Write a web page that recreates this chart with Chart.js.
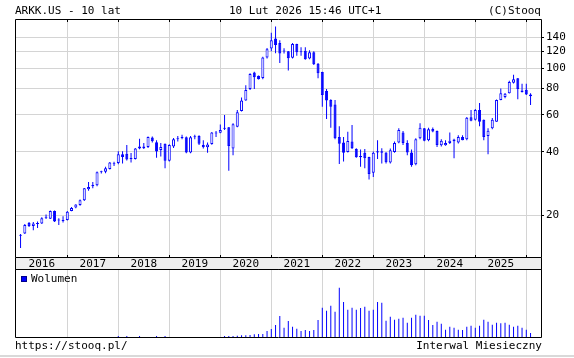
<!DOCTYPE html>
<html><head><meta charset="utf-8">
<script src="https://cdn.jsdelivr.net/npm/chart.js@4/dist/chart.umd.min.js"></script>
<style>
html,body{margin:0;padding:0;background:#fff;}
#wrap{position:relative;width:574px;height:358px;overflow:hidden;font-family:"DejaVu Sans Mono",monospace;font-size:11px;color:#000;}
.t{position:absolute;white-space:pre;line-height:12px;height:12px;}
canvas{position:absolute;left:0;}
#c1{top:0;}
#c2{top:269px;}
#hr{position:absolute;left:0;top:355px;width:574px;height:2px;background:#d9d9d9;}
#lgsq{position:absolute;left:21px;top:276px;width:4px;height:4px;background:#0000ff;border:1px solid #00008b;}
</style></head>
<body><div id="wrap">
<canvas id="c1" width="574" height="270"></canvas>
<canvas id="c2" width="574" height="70"></canvas>
<div class="t" style="left:15px;top:5px;">ARKK.US - 10 lat</div>
<div class="t" style="left:229px;top:5px;">10 Lut 2026 15:46 UTC+1</div>
<div class="t" style="right:33px;top:5px;">(C)Stooq</div>
<div id="lgsq"></div>
<div class="t" style="left:31px;top:273px;">Wolumen</div>
<div class="t" style="left:15px;top:340px;">https://stooq.pl/</div>
<div class="t" style="right:32px;top:340px;">Interwal Miesieczny</div>
<div id="hr"></div>
</div>
<script>
// ---- data (monthly candles, Feb 2016 .. Feb 2026) ----
const months = [
 '2016-02','2016-03','2016-04','2016-05','2016-06','2016-07','2016-08','2016-09','2016-10','2016-11','2016-12',
 '2017-01','2017-02','2017-03','2017-04','2017-05','2017-06','2017-07','2017-08','2017-09','2017-10','2017-11','2017-12',
 '2018-01','2018-02','2018-03','2018-04','2018-05','2018-06','2018-07','2018-08','2018-09','2018-10','2018-11','2018-12',
 '2019-01','2019-02','2019-03','2019-04','2019-05','2019-06','2019-07','2019-08','2019-09','2019-10','2019-11','2019-12',
 '2020-01','2020-02','2020-03','2020-04','2020-05','2020-06','2020-07','2020-08','2020-09','2020-10','2020-11','2020-12',
 '2021-01','2021-02','2021-03','2021-04','2021-05','2021-06','2021-07','2021-08','2021-09','2021-10','2021-11','2021-12',
 '2022-01','2022-02','2022-03','2022-04','2022-05','2022-06','2022-07','2022-08','2022-09','2022-10','2022-11','2022-12',
 '2023-01','2023-02','2023-03','2023-04','2023-05','2023-06','2023-07','2023-08','2023-09','2023-10','2023-11','2023-12',
 '2024-01','2024-02','2024-03','2024-04','2024-05','2024-06','2024-07','2024-08','2024-09','2024-10','2024-11','2024-12',
 '2025-01','2025-02','2025-03','2025-04','2025-05','2025-06','2025-07','2025-08','2025-09','2025-10','2025-11','2025-12',
 '2026-01','2026-02'];
const open = [
 16.0,16.4,18.4,17.8,18.2,18.3,19.5,19.3,21.0,18.9,18.8,
 19.0,21.0,21.8,22.4,23.6,26.6,27.5,27.8,32.0,32.2,33.2,35.0,
 35.4,39.0,39.2,37.0,37.0,41.5,42.4,42.2,46.9,44.5,40.9,43.7,
 36.3,42.5,46.0,46.6,47.0,39.8,47.0,47.6,43.1,42.1,43.6,48.9,
 49.4,52.0,52.4,41.5,52.7,62.6,70.1,79.6,95.2,91.9,89.7,112.3,
 124.0,138.0,131.6,119.8,120.2,112.0,130.2,118.8,121.0,111.0,119.0,105.0,
 95.7,77.8,70.5,67.2,47.1,44.3,40.0,44.8,41.3,37.7,39.7,37.9,
 31.9,40.3,39.6,39.8,35.6,40.0,44.3,49.5,44.1,39.8,35.0,46.4,
 51.8,45.5,51.4,50.3,43.0,43.0,44.1,45.0,44.3,47.1,45.9,58.4,
 56.8,63.3,56.9,47.6,51.8,55.7,70.5,73.0,76.0,85.3,89.5,78.2,
 79.0,75.0];
const high = [
 16.3,18.2,18.6,18.6,18.7,19.6,20.2,21.1,21.1,19.4,19.8,
 21.0,21.9,22.6,23.8,27.0,28.8,28.8,32.3,32.6,34.0,35.8,35.9,
 40.3,40.3,43.1,39.5,41.8,46.2,44.1,47.3,47.3,45.5,44.1,43.9,
 43.5,46.6,47.6,48.3,47.3,47.6,48.3,48.0,45.5,44.3,49.8,50.3,
 54.0,59.9,52.6,54.7,63.3,72.5,83.0,94.5,96.2,92.3,113.2,124.5,
 147.0,157.6,135.4,124.1,120.6,131.6,130.5,125.5,125.5,121.4,120.2,105.6,
 96.2,79.6,71.1,70.5,53.0,47.1,49.9,53.7,41.6,41.1,41.3,38.0,
 40.2,45.5,41.6,39.9,41.5,44.8,51.8,50.3,45.5,41.1,46.5,54.7,
 52.0,52.1,52.3,50.5,46.0,45.5,49.5,46.2,48.0,48.0,58.6,63.3,
 64.0,68.3,57.0,51.8,58.0,71.0,80.1,76.2,87.1,92.9,89.7,84.3,
 84.3,76.0];
const low = [
 14.0,16.3,17.6,17.0,17.4,18.2,19.2,19.2,18.6,18.0,18.5,
 18.9,20.9,21.6,22.2,23.4,26.2,26.9,27.5,31.6,31.7,33.0,34.3,
 35.0,35.3,36.4,35.6,36.8,41.2,41.3,41.8,44.4,37.5,38.1,33.5,
 36.0,41.8,44.8,46.0,39.4,39.4,46.0,43.2,41.5,39.7,43.3,47.1,
 49.0,50.9,32.6,38.6,52.4,62.2,69.9,78.8,79.6,88.2,88.6,111.1,
 120.2,117.6,105.6,117.4,97.3,111.1,114.3,114.3,109.4,110.2,103.3,89.5,
 65.5,57.4,52.1,45.9,35.1,36.0,39.8,41.3,37.5,34.0,33.5,29.6,
 30.4,37.0,35.3,35.3,35.3,39.7,44.0,43.1,38.6,34.0,34.6,46.0,
 45.0,45.0,49.6,42.2,42.5,42.8,43.6,37.3,43.9,45.4,45.5,56.0,
 56.4,53.0,45.5,39.0,51.3,55.7,70.3,72.0,75.8,84.5,71.1,76.5,
 74.5,66.8];
const close = [
 16.1,18.0,17.8,18.3,18.4,19.4,19.7,21.0,18.7,19.0,18.9,
 20.8,21.7,22.5,23.6,26.9,27.3,27.9,32.0,32.3,33.5,35.6,35.2,
 39.0,37.8,36.8,37.4,41.5,42.5,41.6,47.1,44.9,40.2,42.2,36.3,
 43.2,46.0,46.5,47.1,39.8,47.0,47.3,43.7,42.1,43.4,49.5,49.2,
 50.9,51.6,42.7,54.2,61.7,70.1,78.8,93.8,90.6,88.6,112.3,122.8,
 135.4,128.6,117.4,120.4,111.5,130.2,118.9,119.4,110.0,119.0,104.4,94.6,
 74.6,70.1,65.6,46.4,43.7,39.6,45.1,41.6,37.7,38.3,37.3,31.4,
 39.7,39.8,40.3,35.7,40.7,44.1,50.9,44.1,39.8,34.6,45.9,52.1,
 45.2,51.3,50.0,43.2,45.2,44.1,45.2,45.8,47.1,45.5,58.2,56.3,
 63.3,55.6,47.1,50.4,56.8,70.5,76.0,75.5,85.8,88.6,79.6,77.0,
 74.9,73.5];
const volume = [
 0,0,0,0,0,0,0,0,0,0,0,
 0,0,0,0,0,0,0,0,0,0,0,0,
 10,0,10,0,0,10,0,0,0,10,0,10,
 0,0,0,0,0,0,0,0,0,0,0,0,
 0,10,10,10,13,17,17,20,27,30,30,60,
 80,120,210,93,160,103,83,60,70,60,70,170,
 293,263,313,253,493,350,273,293,273,290,303,263,
 273,350,343,163,203,173,183,193,143,193,223,213,
 213,170,120,153,133,73,103,93,73,70,103,113,
 93,113,173,153,123,143,137,143,123,103,113,93,
 73,40];
const yearLabels = ['2016','2017','2018','2019','2020','2021','2022','2023','2024','2025'];
const priceTicks = [20,40,60,80,100,120,140];

// ---- styling ----
const BLUE = '#0000ff';
const GRID = '#d4d4d4';
const FONT = '"DejaVu Sans Mono", monospace';
const XMIN = -0.306, XMAX = 123.46;
const YMIN = 12.69, YMAX = 171.0;
const monthIndex = m => (parseInt(m.slice(0,4)) - 2016) * 12 + parseInt(m.slice(5,7)) - 1;
const yearTickValues = yearLabels.map((y,i) => i*12).concat([120]);

const wickData = months.map((m,k) => ({x: monthIndex(m), y: [low[k], high[k]]}));
const bodyData = months.map((m,k) => ({x: monthIndex(m), y: [open[k], close[k]]}));
const volData  = months.map((m,k) => ({x: monthIndex(m), y: volume[k]}));

const framePlugin = {
  id: 'frame',
  beforeDraw(chart, args, opts) {
    if (!opts.band) return;
    const {ctx, chartArea:{left,right,bottom}} = chart;
    ctx.save();
    ctx.fillStyle = '#eeeeee';
    ctx.fillRect(left, bottom, right-left, 12);
    ctx.restore();
  },
  afterDraw(chart, args, opts) {
    const {ctx, chartArea:{left,top,right,bottom}} = chart;
    const xs = chart.scales.x;
    ctx.save();
    ctx.strokeStyle = '#000';
    ctx.lineWidth = 1;
    ctx.beginPath();
    ctx.rect(Math.round(left)+0.5, Math.round(top)+0.5, Math.round(right-left), Math.round(bottom-top));
    if (opts.band) {
      ctx.moveTo(Math.round(left)+0.5, Math.round(bottom)+0.5);
      ctx.lineTo(Math.round(left)+0.5, Math.round(bottom)+12.5);
      ctx.lineTo(Math.round(right)+0.5, Math.round(bottom)+12.5);
      ctx.lineTo(Math.round(right)+0.5, Math.round(bottom)+0.5);
      yearTickValues.slice(1).forEach(v => {
        const px = Math.round(xs.getPixelForValue(v)) + 0.5;
        ctx.moveTo(px, Math.round(top)); ctx.lineTo(px, Math.round(top)+3);
        ctx.moveTo(px, Math.round(bottom)-2); ctx.lineTo(px, Math.round(bottom));
      });
    }
    ctx.stroke();
    ctx.restore();
  }
};

const xBase = {
  type: 'linear', min: XMIN, max: XMAX, bounds: 'data', offset: false,
  afterBuildTicks: s => { s.ticks = yearTickValues.map(v => ({value: v})); },
  border: {display: false},
};
const xGrid = {offset: false, color: c => (c.tick && c.tick.value === 0 ? 'rgba(0,0,0,0)' : GRID), lineWidth: 1, drawTicks: false};

new Chart(document.getElementById('c1'), {
  type: 'bar',
  data: {datasets: [
    {label: 'body', data: bodyData, order: 0, grouped: false, barThickness: 3,
     borderWidth: 1, borderColor: BLUE, borderSkipped: false, minBarLength: 1, inflateAmount: 0,
     backgroundColor: c => (close[c.dataIndex] >= open[c.dataIndex] ? '#ffffff' : BLUE)},
    {label: 'wick', data: wickData, order: 1, grouped: false, barThickness: 1,
     borderWidth: 0, inflateAmount: 0, backgroundColor: BLUE}
  ]},
  options: {
    responsive: false, animation: false, events: [],
    layout: {padding: {left: 15, top: 19, right: 0, bottom: 1}},
    plugins: {legend: {display: false}, tooltip: {enabled: false}, frame: {band: true}},
    scales: {
      x: Object.assign({}, xBase, {
        position: 'bottom',
        afterFit: s => { s.height = 12; s.paddingLeft = 0; s.paddingRight = 0; },
        grid: xGrid,
        ticks: {autoSkip: false, maxRotation: 0, minRotation: 0, labelOffset: 25.5, padding: 1,
                color: '#000', font: {family: FONT, size: 11},
                callback: (v) => (yearLabels[v/12] || '')}
      }),
      y: {
        type: 'logarithmic', position: 'right', min: YMIN, max: YMAX, bounds: 'data',
        afterBuildTicks: s => { s.ticks = priceTicks.map(v => ({value: v})); },
        afterFit: s => { s.width = 33; s.paddingTop = 0; s.paddingBottom = 0; },
        border: {display: false},
        grid: {offset: false, color: GRID, tickColor: '#000', tickLength: 3, drawTicks: true, lineWidth: 1},
        ticks: {padding: 2, color: '#000', font: {family: FONT, size: 11}, autoSkip: false,
                callback: v => String(v)}
      }
    }
  },
  plugins: [framePlugin]
});

new Chart(document.getElementById('c2'), {
  type: 'bar',
  data: {datasets: [
    {label: 'Wolumen', data: volData, barThickness: 1, borderWidth: 0, inflateAmount: 0, backgroundColor: BLUE}
  ]},
  options: {
    responsive: false, animation: false, events: [],
    layout: {padding: {left: 15, top: 0, right: 33, bottom: 2}},
    plugins: {legend: {display: false}, tooltip: {enabled: false}, frame: {band: false}},
    scales: {
      x: Object.assign({}, xBase, {
        afterFit: s => { s.height = 0; s.paddingLeft = 0; s.paddingRight = 0; },
        grid: xGrid,
        ticks: {display: false}
      }),
      y: {display: false, min: 0, max: 680, bounds: 'data'}
    }
  },
  plugins: [framePlugin]
});
</script>
</body></html>
